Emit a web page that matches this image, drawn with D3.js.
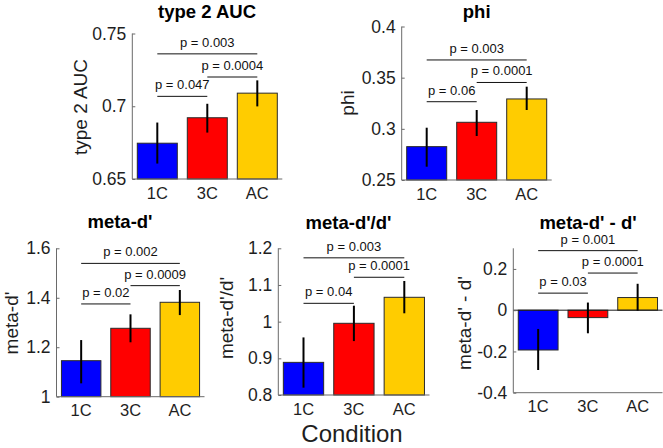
<!DOCTYPE html>
<html><head><meta charset="utf-8">
<script src="https://cdn.jsdelivr.net/npm/d3@7"></script>
<style>
html,body{margin:0;padding:0;background:#fff;}
svg{display:block;font-family:"Liberation Sans",Arial,Helvetica,sans-serif;}
</style></head>
<body><svg id="chart" width="663" height="448"></svg>
<script>
// ---- data ----
const categories = ["1C", "3C", "AC"];
const barColors = ["#0000ff", "#ff0000", "#ffcc00"];
const pairs = [[0, 1], [1, 2], [0, 2]];
const xAxisLabel = "Condition";

// type 2 AUC
const aucMean = [0.6746, 0.6921, 0.7090];
const aucLow = [0.6606, 0.6819, 0.6999];
const aucHigh = [0.6888, 0.7017, 0.7178];
const aucTicks = [0.65, 0.7, 0.75];
const aucTickLabels = ["0.65", "0.7", "0.75"];
const aucPLabels = ["p = 0.047", "p = 0.0004", "p = 0.003"];
const aucPLevels = [0.7068, 0.7201, 0.7360];

// phi
const phiMean = [0.2826, 0.3064, 0.3292];
const phiLow = [0.2630, 0.2930, 0.3184];
const phiHigh = [0.3011, 0.3184, 0.3412];
const phiTicks = [0.25, 0.3, 0.35, 0.4];
const phiTickLabels = ["0.25", "0.3", "0.35", "0.4"];
const phiPLabels = ["p = 0.06", "p = 0.0001", "p = 0.003"];
const phiPLevels = [0.3265, 0.3453, 0.3673];

// meta-d'
const mdMean = [1.1456, 1.2766, 1.3817];
const mdLow = [1.054, 1.220, 1.330];
const mdHigh = [1.229, 1.333, 1.4315];
const mdTicks = [1, 1.2, 1.4, 1.6];
const mdTickLabels = ["1", "1.2", "1.4", "1.6"];
const mdPLabels = ["p = 0.02", "p = 0.0009", "p = 0.002"];
const mdPLevels = [1.375, 1.449, 1.539];

// meta-d'/d'
const ratioMean = [0.889, 0.9955, 1.0664];
const ratioLow = [0.820, 0.947, 1.0228];
const ratioHigh = [0.957, 1.0435, 1.1109];
const ratioTicks = [0.8, 0.9, 1, 1.1, 1.2];
const ratioTickLabels = ["0.8", "0.9", "1", "1.1", "1.2"];
const ratioPLabels = ["p = 0.04", "p = 0.0001", "p = 0.003"];
const ratioPLevels = [1.050, 1.121, 1.174];

// meta-d' - d'
const diffMean = [-0.193, -0.036, 0.0613];
const diffLow = [-0.29, -0.112, -0.002];
const diffHigh = [-0.091, 0.037, 0.128];
const diffTicks = [-0.4, -0.2, 0, 0.2];
const diffTickLabels = ["-0.4", "-0.2", "0", "0.2"];
const diffPLabels = ["p = 0.03", "p = 0.0001", "p = 0.001"];
const diffPLevels = [0.0827, 0.18, 0.2886];

// ---- layout ----
const panels = [
  {title: "type 2 AUC", ylabel: "type 2 AUC", mean: aucMean, low: aucLow, high: aucHigh,
   ticks: aucTicks, tickLabels: aucTickLabels, pl: aucPLabels, pv: aucPLevels,
   domain: [0.65, 0.75], x: [132.3, 282.3], y: [179, 33.5], tx: 207, ty: 17.5, lx: 80, ly: 107},
  {title: "phi", ylabel: "phi", mean: phiMean, low: phiLow, high: phiHigh,
   ticks: phiTicks, tickLabels: phiTickLabels, pl: phiPLabels, pv: phiPLevels,
   domain: [0.25, 0.4], x: [401.7, 551.7], y: [180, 26.5], tx: 476.7, ty: 17.5, lx: 347, ly: 103},
  {title: "meta-d'", ylabel: "meta-d'", mean: mdMean, low: mdLow, high: mdHigh,
   ticks: mdTicks, tickLabels: mdTickLabels, pl: mdPLabels, pv: mdPLevels,
   domain: [1, 1.6], x: [56.5, 204.5], y: [396.7, 248.3], tx: 120, ty: 228, lx: 11, ly: 323},
  {title: "meta-d'/d'", ylabel: "meta-d'/d'", mean: ratioMean, low: ratioLow, high: ratioHigh,
   ticks: ratioTicks, tickLabels: ratioTickLabels, pl: ratioPLabels, pv: ratioPLevels,
   domain: [0.8, 1.2], x: [278.3, 429.5], y: [395, 248.3], tx: 348.5, ty: 228.5, lx: 226, ly: 318},
  {title: "meta-d' - d'", ylabel: "meta-d' - d'", mean: diffMean, low: diffLow, high: diffHigh,
   ticks: diffTicks, tickLabels: diffTickLabels, pl: diffPLabels, pv: diffPLevels,
   domain: [-0.4, 0.3], x: [513.3, 662.5], y: [392.7, 248.3], tx: 588, ty: 228.5, lx: 464, ly: 323, zeroLine: true}
];

const svg = d3.select("#chart");
const axisColor = "#6a6a6a";
const textColor = "#1e1e1e";

panels.forEach(p => {
  const g = svg.append("g");
  const x = d3.scaleBand().domain(categories).range(p.x).paddingInner(0.2).paddingOuter(0.1);
  const y = d3.scaleLinear().domain(p.domain).range(p.y);
  const base = p.domain[0] < 0 ? 0 : p.domain[0];

  // bars
  g.selectAll("rect.bar").data(p.mean).enter().append("rect")
    .attr("x", (d, i) => x(categories[i]))
    .attr("width", x.bandwidth())
    .attr("y", d => Math.min(y(d), y(base)))
    .attr("height", d => Math.abs(y(d) - y(base)))
    .attr("fill", (d, i) => barColors[i])
    .attr("stroke", "#2a2a2a").attr("stroke-width", 1);

  if (p.zeroLine) {
    g.append("line").attr("x1", p.x[0]).attr("x2", p.x[1])
      .attr("y1", y(0)).attr("y2", y(0)).attr("stroke", "#1a1a1a").attr("stroke-width", 1);
  }

  // error bars
  g.selectAll("line.err").data(p.mean).enter().append("line")
    .attr("x1", (d, i) => x(categories[i]) + x.bandwidth() / 2)
    .attr("x2", (d, i) => x(categories[i]) + x.bandwidth() / 2)
    .attr("y1", (d, i) => y(p.low[i]))
    .attr("y2", (d, i) => y(p.high[i]))
    .attr("stroke", "#000").attr("stroke-width", 2);

  // axes
  const yAxis = d3.axisLeft(y).tickValues(p.ticks).tickSize(-3).tickPadding(6)
    .tickFormat((d, i) => p.tickLabels[i]);
  const ya = g.append("g").attr("transform", `translate(${p.x[0]},0)`).call(yAxis);
  ya.select(".domain").attr("stroke", axisColor).attr("d", `M0,${p.y[0]}V${p.y[1]}`);
  ya.selectAll(".tick line").attr("stroke", axisColor);
  ya.selectAll(".tick text").attr("fill", textColor).attr("font-size", 17.5)
    .attr("font-family", "Liberation Sans, Arial, sans-serif");

  const xAxis = d3.axisBottom(x).tickSize(0).tickPadding(8);
  const xa = g.append("g").attr("transform", `translate(0,${p.y[0]})`).call(xAxis);
  xa.select(".domain").attr("stroke", axisColor).attr("d", `M${p.x[0]},0H${p.x[1]}`);
  xa.selectAll(".tick text").attr("fill", textColor).attr("font-size", 16.5)
    .attr("font-family", "Liberation Sans, Arial, sans-serif");

  // significance lines
  const cx = i => x(categories[i]) + x.bandwidth() / 2;
  pairs.forEach((pr, k) => {
    const yy = y(p.pv[k]);
    g.append("line").attr("x1", cx(pr[0])).attr("x2", cx(pr[1]))
      .attr("y1", yy).attr("y2", yy).attr("stroke", "#111").attr("stroke-width", 1);
    g.append("text").attr("x", (cx(pr[0]) + cx(pr[1])) / 2).attr("y", yy - 7)
      .attr("text-anchor", "middle").attr("font-size", 13).attr("fill", "#111")
      .text(p.pl[k]);
  });

  // title
  g.append("text").attr("x", p.tx).attr("y", p.ty).attr("text-anchor", "middle")
    .attr("font-size", 18.5).attr("font-weight", "bold").attr("fill", "#000").text(p.title);

  // y label
  g.append("text").attr("transform", `translate(${p.lx},${p.ly}) rotate(-90)`)
    .attr("text-anchor", "middle").attr("dy", "0.35em")
    .attr("font-size", 19).attr("fill", textColor).text(p.ylabel);
});

svg.append("text").attr("x", 352).attr("y", 442).attr("text-anchor", "middle")
  .attr("font-size", 24).attr("fill", textColor).text(xAxisLabel);
</script>
</body></html>
